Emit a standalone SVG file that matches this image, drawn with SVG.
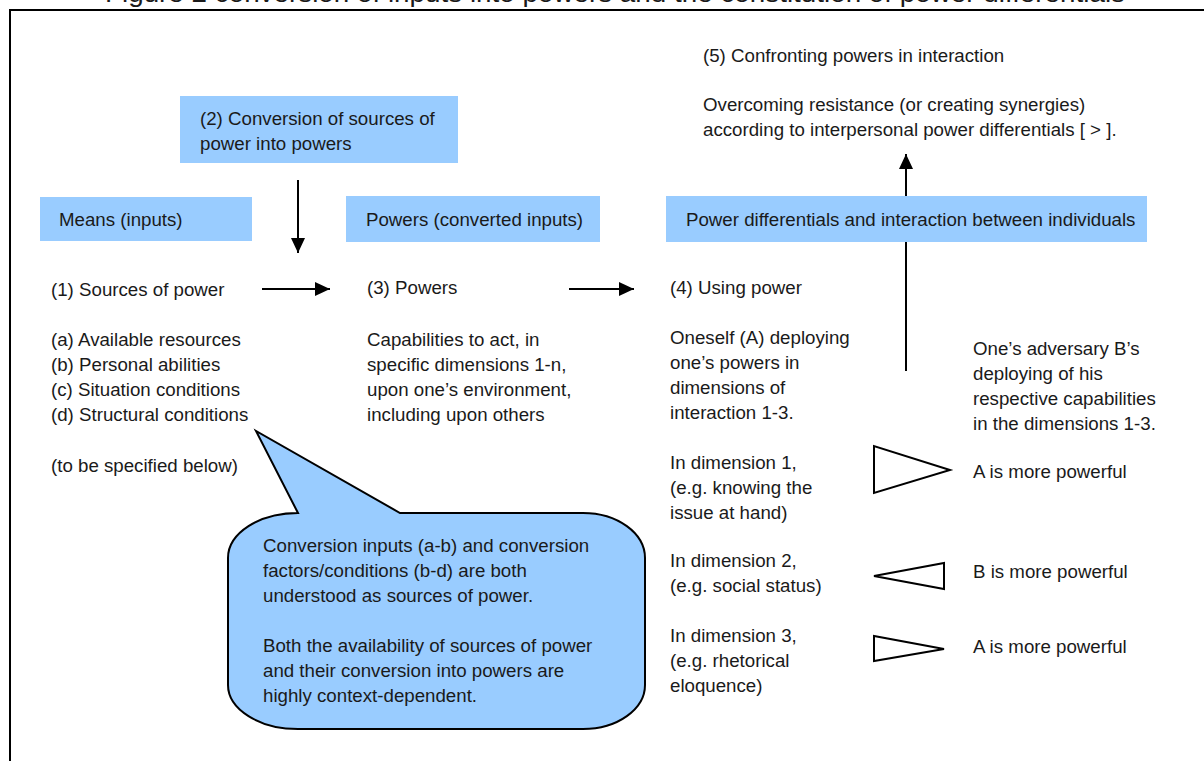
<svg xmlns="http://www.w3.org/2000/svg" width="1204" height="761" viewBox="0 0 1204 761">
  <style>
    .t { font-family: "Liberation Sans", Arial, sans-serif; font-size: 18.7px; fill: #1a1a1a; }
    .title { font-family: "Liberation Sans", Arial, sans-serif; font-size: 26px; fill: #1a1a1a; }
    .hdr { fill: #99ccff; stroke: none; }
    .conn { stroke: #000; stroke-width: 2; fill: none; }
    .tri { stroke: #000; stroke-width: 2; fill: #fff; stroke-linejoin: miter; }
    .bubble { fill: #99ccff; stroke: #000; stroke-width: 2; stroke-linejoin: miter; }
  </style>
  <defs>
    <marker id="arr" markerUnits="userSpaceOnUse" markerWidth="16" markerHeight="14" refX="15" refY="7" orient="auto">
      <path d="M0,0 L15,7 L0,14 Z" fill="#000"/>
    </marker>
  </defs>
  <rect x="0" y="0" width="1204" height="761" fill="#fff"/>
  <text class="title" x="105" y="2" textLength="1020" lengthAdjust="spacingAndGlyphs">Figure 2 conversion of inputs into powers and the constitution of power differentials</text>
  <rect x="10" y="10" width="1210" height="770" fill="none" stroke="#000" stroke-width="2"/>

  <g id="connectors">
    <line class="conn" x1="298" y1="180" x2="298" y2="253" marker-end="url(#arr)"/>
    <line class="conn" x1="262" y1="289" x2="330" y2="289" marker-end="url(#arr)"/>
    <line class="conn" x1="569" y1="289" x2="634" y2="289" marker-end="url(#arr)"/>
    <line class="conn" x1="906" y1="371" x2="906" y2="154" marker-end="url(#arr)"/>
  </g>

  <g id="node-conversion">
    <rect class="hdr" x="180" y="96" width="278" height="67"/>
    <text class="t" x="200" y="125">(2) Conversion of sources of</text>
    <text class="t" x="200" y="150">power into powers</text>
  </g>
  <g id="node-means">
    <rect class="hdr" x="40" y="197" width="212" height="44"/>
    <text class="t" x="59" y="226">Means (inputs)</text>
  </g>
  <g id="node-powers-header">
    <rect class="hdr" x="346" y="196" width="254" height="46"/>
    <text class="t" x="366" y="226">Powers (converted inputs)</text>
  </g>
  <g id="node-differentials-header">
    <rect class="hdr" x="666" y="196" width="481" height="46"/>
    <text class="t" x="686" y="226">Power differentials and interaction between individuals</text>
  </g>

  <g id="node-sources">
    <text class="t" x="51" y="296">(1) Sources of power</text>
    <text class="t" x="51" y="346">(a) Available resources</text>
    <text class="t" x="51" y="371">(b) Personal abilities</text>
    <text class="t" x="51" y="396">(c) Situation conditions</text>
    <text class="t" x="51" y="421">(d) Structural conditions</text>
    <text class="t" x="51" y="472">(to be specified below)</text>
  </g>
  <g id="node-powers">
    <text class="t" x="367" y="294">(3) Powers</text>
    <text class="t" x="367" y="346">Capabilities to act, in</text>
    <text class="t" x="367" y="371">specific dimensions 1-n,</text>
    <text class="t" x="367" y="396">upon one’s environment,</text>
    <text class="t" x="367" y="421">including upon others</text>
  </g>
  <g id="node-using">
    <text class="t" x="670" y="294">(4) Using power</text>
    <text class="t" x="670" y="344">Oneself (A) deploying</text>
    <text class="t" x="670" y="369">one’s powers in</text>
    <text class="t" x="670" y="394">dimensions of</text>
    <text class="t" x="670" y="419">interaction 1-3.</text>
  </g>
  <g id="node-confronting">
    <text class="t" x="703" y="62">(5) Confronting powers in interaction</text>
    <text class="t" x="703" y="111">Overcoming resistance (or creating synergies)</text>
    <text class="t" x="703" y="136">according to interpersonal power differentials [ &gt; ].</text>
  </g>
  <g id="node-adversary">
    <text class="t" x="973" y="355">One’s adversary B’s</text>
    <text class="t" x="973" y="380">deploying of his</text>
    <text class="t" x="973" y="405">respective capabilities</text>
    <text class="t" x="973" y="430">in the dimensions 1-3.</text>
  </g>
  <g id="node-dim1">
    <text class="t" x="670" y="469">In dimension 1,</text>
    <text class="t" x="670" y="494">(e.g. knowing the</text>
    <text class="t" x="670" y="519">issue at hand)</text>
    <polygon class="tri" points="874,446 874,493 950,470"/>
    <text class="t" x="973" y="478">A is more powerful</text>
  </g>
  <g id="node-dim2">
    <text class="t" x="670" y="567">In dimension 2,</text>
    <text class="t" x="670" y="592">(e.g. social status)</text>
    <polygon class="tri" points="874,576 944,563 944,589"/>
    <text class="t" x="973" y="578">B is more powerful</text>
  </g>
  <g id="node-dim3">
    <text class="t" x="670" y="642">In dimension 3,</text>
    <text class="t" x="670" y="667">(e.g. rhetorical</text>
    <text class="t" x="670" y="692">eloquence)</text>
    <polygon class="tri" points="874,636 874,661 944,649"/>
    <text class="t" x="973" y="653">A is more powerful</text>
  </g>

  <g id="node-callout">
    <path class="bubble" d="M298,513 L256,431 L400,513 L583,513 A62,45 0 0 1 645,558 L645,685 A62,44 0 0 1 583,729 L298,729 A70,44 0 0 1 228,685 L228,558 A70,45 0 0 1 298,513 Z"/>
    <text class="t" x="263" y="552">Conversion inputs (a-b) and conversion</text>
    <text class="t" x="263" y="577">factors/conditions (b-d) are both</text>
    <text class="t" x="263" y="602">understood as sources of power.</text>
    <text class="t" x="263" y="652">Both the availability of sources of power</text>
    <text class="t" x="263" y="677">and their conversion into powers are</text>
    <text class="t" x="263" y="702">highly context-dependent.</text>
  </g>
</svg>
